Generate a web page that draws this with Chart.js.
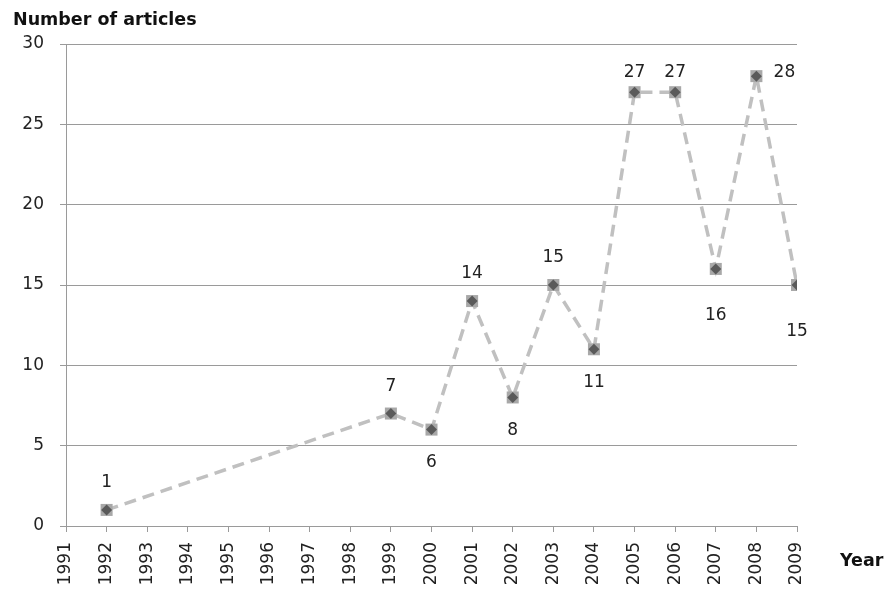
<!DOCTYPE html>
<html>
<head>
<meta charset="utf-8">
<script src="https://cdn.jsdelivr.net/npm/chart.js@4/dist/chart.umd.min.js"></script>
<style>
  html, body { margin: 0; padding: 0; background: #fff; }
  #wrap { width: 891px; height: 592px; }
</style>
</head>
<body>
<div id="wrap"><canvas id="articlesChart"></canvas></div>
<script>
// data
var years = [1992, 1999, 2000, 2001, 2002, 2003, 2004, 2005, 2006, 2007, 2008, 2009];
var articles = [1, 7, 6, 14, 8, 15, 11, 27, 27, 16, 28, 15];
var labelSide = ['above', 'above', 'below', 'above', 'below', 'above', 'below', 'above', 'above', 'farBelow', 'right', 'farBelow'];
var yearMin = 1991, yearMax = 2009;
var countMax = 30, countStep = 5;

var points = years.map(function (y, i) { return { x: y, y: articles[i] }; });

var sideOffset = {
  above: [0, -27],
  below: [0, 33],
  farBelow: [0, 47],
  right: [28, -4]
};

var fontName = "'DejaVu Sans', sans-serif";

// value labels and the two axis titles
var labelPlugin = {
  id: 'labelPlugin',
  afterDatasetsDraw: function (chart) {
    var ctx = chart.ctx;
    var meta = chart.getDatasetMeta(0);
    ctx.save();
    ctx.fillStyle = '#222';
    ctx.font = '17px ' + fontName;
    ctx.textAlign = 'center';
    ctx.textBaseline = 'middle';
    meta.data.forEach(function (pt, i) {
      var off = sideOffset[labelSide[i]];
      var dy = off[1];
      // keep labels inside the plot like excel does
      if (labelSide[i] == 'above' && pt.y + dy < chart.chartArea.top + 26) dy = chart.chartArea.top + 29 - pt.y;
      ctx.fillText(String(articles[i]), pt.x + off[0], pt.y + dy);
    });
    ctx.font = 'bold 17.5px ' + fontName;
    ctx.fillStyle = '#111';
    ctx.textAlign = 'left';
    ctx.fillText('Number of articles', 13, 20);
    ctx.fillText('Year', 840, 561);
    ctx.restore();
  }
};

var canvas = document.getElementById('articlesChart');

new Chart(canvas, {
  type: 'line',
  data: {
    datasets: [{
      label: 'Articles',
      data: points,
      order: 1,
      borderColor: '#c0c0c0',
      borderWidth: 3.5,
      borderDash: [12, 7],
      tension: 0,
      fill: false,
      pointStyle: 'rect',
      pointRadius: 8.5,
      pointBackgroundColor: '#a8a8a8',
      pointBorderWidth: 0
    }, {
      label: 'Articles marker',
      data: points,
      order: 0,
      showLine: false,
      pointStyle: 'rectRot',
      pointRadius: 5.5,
      pointBackgroundColor: '#5a5a5a',
      pointBorderWidth: 0
    }]
  },
  options: {
    responsive: true,
    maintainAspectRatio: false,
    animation: false,
    layout: { padding: { top: 44, right: 94, left: 0, bottom: 0 } },
    plugins: {
      legend: { display: false },
      tooltip: { enabled: false }
    },
    scales: {
      x: {
        type: 'linear',
        min: yearMin,
        max: yearMax,
        afterFit: function (scale) { scale.height = 66; },
        ticks: {
          stepSize: 1,
          autoSkip: false,
          minRotation: 90,
          maxRotation: 90,
          padding: 10,
          color: '#222',
          font: { size: 17, family: fontName },
          callback: function (v) { return String(v); }
        },
        grid: { drawOnChartArea: false, drawTicks: true, tickLength: 6, color: '#9a9a9a' },
        border: { color: '#9a9a9a', width: 1 }
      },
      y: {
        min: 0,
        max: countMax,
        afterFit: function (scale) { scale.width = 66; },
        ticks: {
          stepSize: countStep,
          padding: 16,
          color: '#222',
          font: { size: 17, family: fontName }
        },
        grid: { color: '#9a9a9a', tickLength: 6 },
        border: { color: '#9a9a9a', width: 1 }
      }
    }
  },
  plugins: [labelPlugin]
});
</script>
</body>
</html>
